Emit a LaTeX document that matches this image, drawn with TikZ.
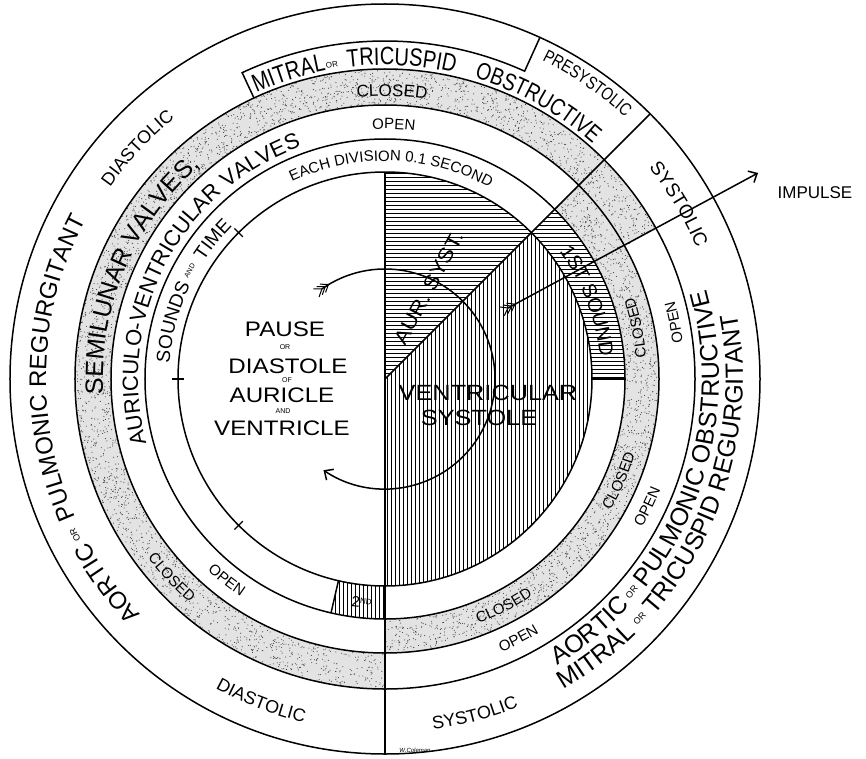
\documentclass[tikz,border=0pt]{standalone}
\usepackage{fontspec}
\setmainfont{Liberation Sans}
\newfontfamily\fN{Liberation Sans}
\newfontfamily\fC[FakeStretch=0.8]{Liberation Sans}
\newfontfamily\fW[FakeStretch=1.15]{Liberation Sans}
\usetikzlibrary{decorations.text,arrows.meta,calc}
\newcommand\fsz[1]{\fontsize{#1}{#1}\selectfont}
% clockwise text, tops outward: center angle, baseline radius, half span, font, text
\newcommand\cwtext[5]{\begin{scope}#4\path[decorate,decoration={text along path,text align=center,text={#5}}] ({#1+#3}:#2) arc[start angle={#1+#3}, end angle={#1-#3}, radius=#2];\end{scope}}
% counter-clockwise text, tops inward
\newcommand\ccwtext[5]{\begin{scope}#4\path[decorate,decoration={text along path,text align=center,text={#5}}] ({#1-#3}:#2) arc[start angle={#1-#3}, end angle={#1+#3}, radius=#2];\end{scope}}
\begin{document}
\begin{tikzpicture}[x=1pt,y=1pt,
  ln/.style={line width=1.5pt},
  hatch/.style={line width=0.7pt},
  lbl/.style={inner sep=0pt},
  barb/.style={line width=1pt}]
\useasboundingbox (-385,-379) rectangle (481,379);
\fill[white] (-385,-379) rectangle (481,379);

% ---------- stippled sectors ----------
\fill[black!11] (29:274) arc[start angle=29,end angle=270,radius=274] -- (270:310) arc[start angle=270,end angle=29,radius=310] -- cycle;
\fill[black!11] (-90:240) arc[start angle=-90,end angle=45,radius=240] -- (45:274) arc[start angle=45,end angle=-90,radius=274] -- cycle;
\pgfmathsetseed{7}
\foreach \i in {1,...,2600}{\pgfmathsetmacro\aa{29+241*rnd}\pgfmathsetmacro\rr{275+34*rnd}\fill[black!75] (\aa:\rr) circle[radius=0.55];}
\foreach \i in {1,...,1300}{\pgfmathsetmacro\aa{-90+135*rnd}\pgfmathsetmacro\rr{241+32*rnd}\fill[black!75] (\aa:\rr) circle[radius=0.55];}

% ---------- hatching ----------
\begin{scope}
\clip (0,0) -- (45:207) arc[start angle=45,end angle=90,radius=207] -- cycle;
\foreach \y in {2,6,...,210} \draw[hatch] (-2,\y) -- (212,\y);
\end{scope}
\begin{scope}
\clip (0,0) -- (-90:207) arc[start angle=-90,end angle=45,radius=207] -- cycle;
\foreach \x in {2,6,...,210} \draw[hatch] (\x,-212) -- (\x,212);
\end{scope}
\begin{scope}
\clip (0:207) arc[start angle=0,end angle=45,radius=207] -- (45:240) arc[start angle=45,end angle=0,radius=240] -- cycle;
\foreach \y in {2,6,...,242} \draw[hatch] (140,\y) -- (245,\y);
\end{scope}
\begin{scope}
\clip (257:207) arc[start angle=257,end angle=270,radius=207] -- (270:240) arc[start angle=270,end angle=257,radius=240] -- cycle;
\foreach \x in {-62,-58,...,2} \draw[hatch] (\x,-245) -- (\x,-195);
\end{scope}

% ---------- circles and radial lines ----------
\coordinate (O) at (0,0);
\draw[ln] (O) circle[radius=207];
\draw[ln] (O) circle[radius=240];
\draw[ln] (O) circle[radius=274];
\draw[ln] (O) circle[radius=310];
\draw[ln] (O) circle[radius=375];
\draw[ln] (O) -- (90:207);
\draw[ln] (O) -- (270:375);
\draw[ln] (O) -- (45:375);
\draw[ln] (0:207) -- (0:240);
\draw[ln] (257:207) -- (257:240);
\draw[ln] (115:310) -- (115:338) arc[start angle=115,end angle=65.6,radius=338] -- (65.6:375);
\foreach \t in {135,180,225} \draw[line width=1.1pt] (\t:201) -- (\t:213);

% ---------- curved texts ----------
\cwtext{107.5}{314}{30}{\fC\fsz{25}}{MITRAL}
\cwtext{99.6}{316}{8}{\fN\fsz{8}}{OR}
\cwtext{87}{314}{30}{\fC\fsz{25}}{TRICUSPID}
\cwtext{61}{314}{30}{\fC\fsz{24}}{OBSTRUCTIVE}
\cwtext{55.6}{355}{25}{\fC\fsz{18}}{PRESYSTOLIC}
\cwtext{30.7}{338}{25}{\fN\fsz{19}}{SYSTOLIC}
\cwtext{88.6}{283}{20}{\fN\fsz{17}}{CLOSED}
\cwtext{88}{250}{20}{\fN\fsz{15}}{OPEN}
\cwtext{88.3}{218}{45}{\fN\fsz{15}}{EACH DIVISION 0.1 SECOND}
\cwtext{137}{335}{22}{\fN\fsz{18}}{DIASTOLIC}
\cwtext{157}{282}{45}{\fN\fsz{25}}{SEMILUNAR VALVES,}
\cwtext{152.5}{247}{60}{\fN\fsz{22}}{AURICULO-VENTRICULAR VALVES}
\cwtext{165}{216}{20}{\fN\fsz{19}}{SOUNDS}
\cwtext{151}{221}{8}{\fN\fsz{7}}{AND}
\cwtext{141}{216}{15}{\fN\fsz{19}}{TIME}
\cwtext{21}{216}{30}{\fN\fsz{20}}{1ST SOUND}
\cwtext{216.3}{339}{20}{\fN\fsz{24}}{AORTIC}
\cwtext{206.7}{344}{6}{\fN\fsz{9}}{OR}
\cwtext{178}{339}{40}{\fN\fsz{24}}{PULMONIC REGURGITANT}

\ccwtext{249}{353}{22}{\fN\fsz{18}}{DIASTOLIC}
\ccwtext{285}{354}{22}{\fN\fsz{18}}{SYSTOLIC}
\ccwtext{-50.9}{334}{20}{\fN\fsz{25}}{AORTIC}
\ccwtext{-40.8}{329}{6}{\fN\fsz{9}}{OR}
\ccwtext{-11.6}{334}{40}{\fN\fsz{25}}{PULMONIC OBSTRUCTIVE}
\ccwtext{-52.7}{358}{20}{\fN\fsz{25}}{MITRAL}
\ccwtext{-43.3}{353}{6}{\fN\fsz{9}}{OR}
\ccwtext{-15.4}{358}{40}{\fN\fsz{25}}{TRICUSPID REGURGITANT}
\ccwtext{11.5}{262}{20}{\fN\fsz{15}}{CLOSED}
\ccwtext{-23.5}{261}{20}{\fN\fsz{15}}{CLOSED}
\ccwtext{-62.4}{262}{20}{\fN\fsz{15}}{CLOSED}
\ccwtext{11.1}{300}{15}{\fN\fsz{15}}{OPEN}
\ccwtext{-26}{297}{15}{\fN\fsz{15}}{OPEN}
\ccwtext{-62.8}{297}{15}{\fN\fsz{15}}{OPEN}
\ccwtext{231.8}{261}{15}{\fN\fsz{15}}{OPEN}
\ccwtext{222.9}{297}{20}{\fN\fsz{15}}{CLOSED}

% ---------- straight labels ----------
\node[lbl] (pause) at (-100,50) {\fW\fsz{21}PAUSE};
\node[lbl] (or1) at (-100,32) {\fN\fsz{7}OR};
\node[lbl] (diast) at (-97,13) {\fW\fsz{21}DIASTOLE};
\node[lbl] (of1) at (-98,-1) {\fN\fsz{7}OF};
\node[lbl] (auricle) at (-103,-16) {\fW\fsz{21}AURICLE};
\node[lbl] (and1) at (-102,-32) {\fN\fsz{7}AND};
\node[lbl] (ventricle) at (-103,-49) {\fW\fsz{21}VENTRICLE};
\node[lbl] (ventr) at (103,-14) {\fW\fsz{22}VENTRICULAR};
\node[lbl] (syst) at (94,-39) {\fW\fsz{22}SYSTOLE};
\node[lbl,rotate=61.7] (aur) at (44,91) {\fW\fsz{20}AUR. SYST.};
\node[lbl,rotate=-6] (second) at (264:225) {\fN\fsz{15}2\raisebox{4pt}{\fsz{8}ND}};
\node[lbl] (impulse) at (430,186) {\fN\fsz{17}IMPULSE};
\node[lbl] (sign) at (30,-371) {\fN\itshape\fsz{6}W.Coleman};

% ---------- arrows ----------
\coordinate (impT) at (123,71);
\coordinate (impH) at (373,206);
\draw[ln,-{Straight Barb[length=7pt,width=13pt,line width=1.5pt]}] (impT) -- (impH);
\begin{scope}[shift={(impT)},rotate=28.4]
\foreach \k in {0,4,8} {\draw[barb] (\k,0) -- (\k-7,5); \draw[barb] (\k,0) -- (\k-7,-5);}
\end{scope}
\coordinate (arcT) at (125:110);
\draw[ln,-{Straight Barb[length=7pt,width=13pt,line width=1.5pt]}] (arcT) arc[start angle=125,end angle=-124,radius=110];
\begin{scope}[shift={(arcT)},rotate=35]
\foreach \k in {0,4,8} {\draw[barb] (\k,0) -- (\k-7,5); \draw[barb] (\k,0) -- (\k-7,-5);}
\end{scope}
\end{tikzpicture}
\end{document}
